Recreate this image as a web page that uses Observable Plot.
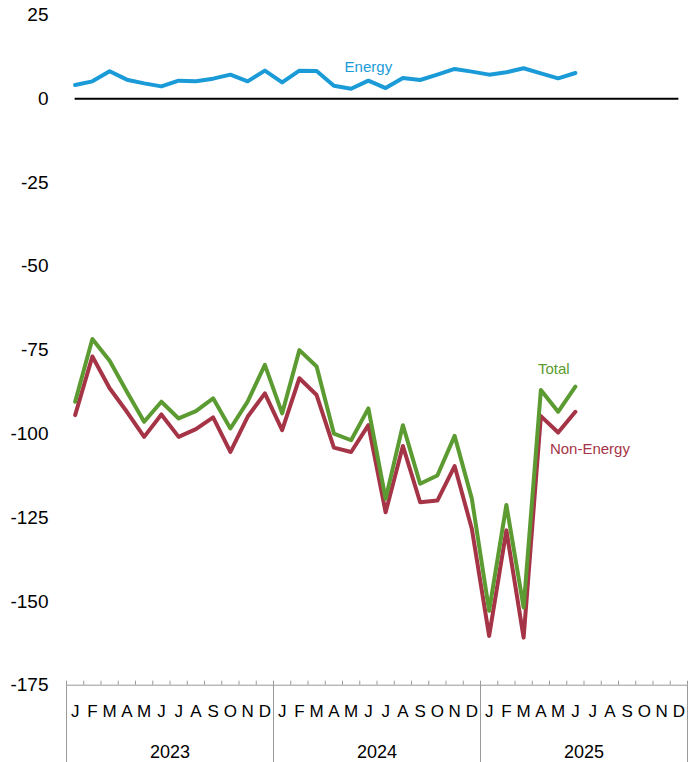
<!DOCTYPE html>
<html><head><meta charset="utf-8">
<script src="https://cdn.jsdelivr.net/npm/d3@7"></script>
<script src="https://cdn.jsdelivr.net/npm/@observablehq/plot@0.6"></script>
<style>body{margin:0;background:#fff} svg{display:block}</style>
</head><body><div id="chart"></div>
<script>
const years = ["2023", "2024", "2025"];
const monthLetters = ["J","F","M","A","M","J","J","A","S","O","N","D"];
const yTicks = [25, 0, -25, -50, -75, -100, -125, -150, -175];
// Jan 2023 .. Jun 2025
const energy = [4.1,5.2,8.2,5.7,4.6,3.7,5.4,5.2,6.0,7.2,5.2,8.4,
  4.9,8.4,8.3,3.9,3.0,5.4,3.2,6.2,5.6,7.2,8.9,8.1,
  7.2,7.9,9.1,7.6,6.1,7.7];
const total = [-90.4,-71.7,-78.2,-87.4,-96.4,-90.4,-95.4,-93.2,-89.4,-98.4,-90.4,-79.4,
  -93.9,-75.0,-79.9,-99.9,-101.9,-92.4,-119.4,-97.4,-114.9,-112.4,-100.6,-119.4,
  -152.8,-121.2,-151.8,-86.9,-93.4,-85.9];
const nonEnergy = [-94.4,-76.9,-86.4,-93.4,-100.9,-94.2,-100.9,-98.6,-95.1,-105.4,-94.9,-87.9,
  -98.9,-83.4,-88.4,-104.1,-105.4,-97.4,-123.4,-103.6,-120.4,-119.9,-109.6,-128.4,
  -160.3,-128.8,-160.8,-94.7,-99.6,-93.4];
const seriesNames = ["Non-Energy", "Total", "Energy"];
const seriesColors = ["#a53447", "#5b9b31", "#1a9bd7"];

const nMonths = years.length * 12;
const rows = [];
[nonEnergy, total, energy].forEach((arr, s) =>
  arr.forEach((v, i) => rows.push({series: seriesNames[s], i, value: v})));
const mx = d => d.i + 0.5;
const yMin = d3.min(yTicks), yMax = d3.max(yTicks);

const labelAt = (name, idx) => rows.filter(r => r.series === name && r.i === idx);
const font = "Liberation Sans, Arial, sans-serif";
const narrow = "Liberation Sans Narrow, Arial Narrow, Liberation Sans, sans-serif";

const chart = Plot.plot({
  width: 696, height: 762,
  marginLeft: 66, marginRight: 9, marginTop: 14.5, marginBottom: 77.3,
  style: {fontFamily: font, background: "#fff"},
  x: {type: "linear", domain: [0, nMonths], label: null},
  y: {domain: [yMin, yMax], label: null},
  color: {domain: seriesNames, range: seriesColors},
  marks: [
    Plot.axisY(yTicks, {tickSize: 0, tickPadding: 18, fontSize: 19, label: null, fill: "#000",
      tickFormat: d => String(d)}),
    Plot.ruleY([yMin], {x1: 0, x2: nMonths, stroke: "#999"}),
    Plot.axisX(d3.range(nMonths + 1), {tickSize: 4, dy: -4, tickFormat: () => "", stroke: "#999", label: null}),
    Plot.axisX(d3.range(0, nMonths + 1, 12), {tickSize: 78, tickFormat: () => "", stroke: "#999", label: null}),
    Plot.axisX(d3.range(nMonths).map(i => i + 0.5), {tickSize: 0, tickPadding: 20, fontSize: 17, fontFamily: narrow,
      tickFormat: d => monthLetters[Math.floor(d) % 12], label: null, fill: "#000"}),
    Plot.axisX(years.map((y, k) => k * 12 + 6), {tickSize: 0, tickPadding: 60, fontSize: 18,
      tickFormat: d => years[Math.floor(d / 12)], label: null, fill: "#000"}),
    Plot.ruleY([0], {x1: 0.5, x2: nMonths - 0.5, stroke: "#000", strokeWidth: 2}),
    Plot.line(rows, {x: mx, y: "value", z: "series", stroke: "series", strokeWidth: 4,
      strokeLinejoin: "round", strokeLinecap: "round"}),
    Plot.text(labelAt("Energy", 17), {x: mx, y: "value", text: "series", fill: seriesColors[2],
      fontSize: 15, dy: -13, textAnchor: "middle"}),
    Plot.text(labelAt("Total", 27), {x: mx, y: "value", text: "series", fill: seriesColors[1],
      fontSize: 15, dy: -21, dx: -3, textAnchor: "start"}),
    Plot.text(labelAt("Non-Energy", 27), {x: mx, y: "value", text: "series", fill: seriesColors[0],
      fontSize: 15, dy: 33, dx: 9, textAnchor: "start"})
  ]
});
document.getElementById("chart").appendChild(chart);
</script>
</body></html>
